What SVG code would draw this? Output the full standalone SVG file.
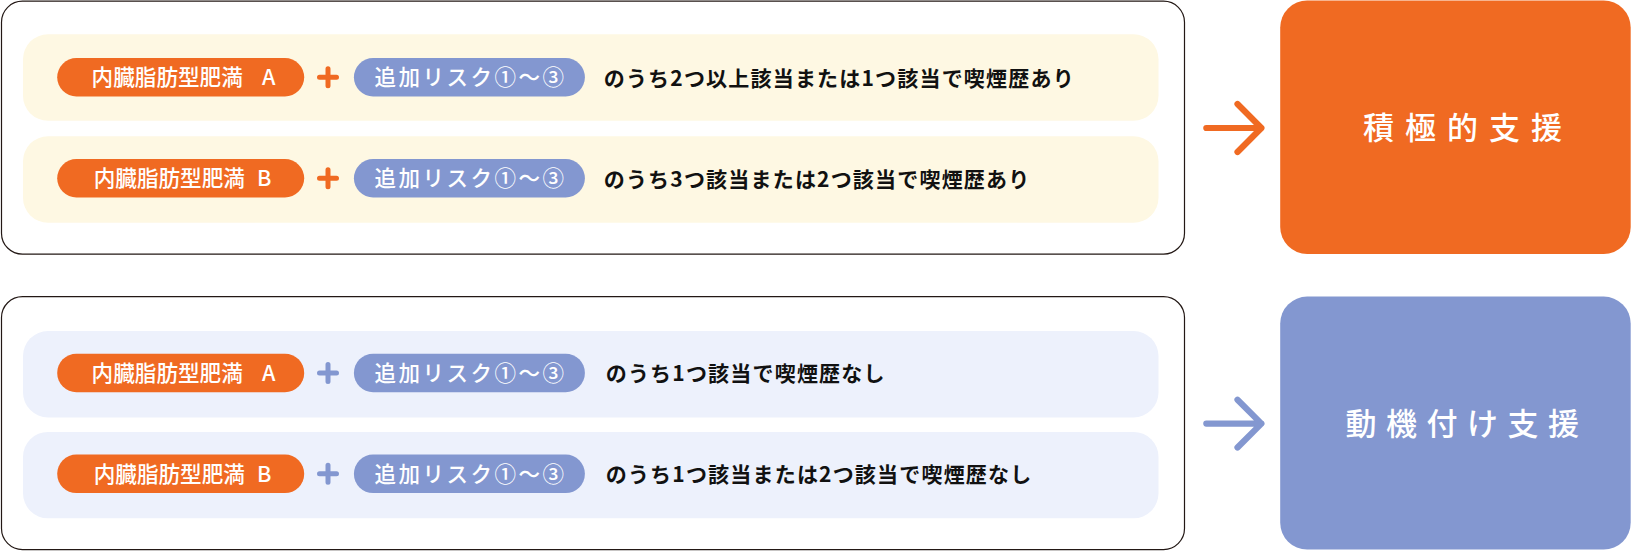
<svg xmlns="http://www.w3.org/2000/svg" width="1632" height="555" viewBox="0 0 1632 555">
<style>
.frame{fill:#fff;stroke:#231815;stroke-width:1.2}
.bandY{fill:#FEF8E3}
.bandB{fill:#EDF1FC}
.pillO{fill:#F06A22}
.pillB{fill:#8397D0}
.pt{font-family:"Noto Sans CJK JP","Noto Sans",sans-serif;font-size:21.6px;font-weight:500;fill:#fff}
.rt{font-family:"Noto Sans CJK JP","Noto Sans",sans-serif;font-size:21.5px;font-weight:500;fill:#fff;letter-spacing:2.5px}
.bt{font-family:"Noto Sans CJK JP","Noto Sans",sans-serif;font-size:21px;font-weight:700;fill:#111;letter-spacing:1.2px}
.plusO{stroke:#F06A22;stroke-width:5;stroke-linecap:round}
.plusB{stroke:#8397D0;stroke-width:5;stroke-linecap:round}
.big{font-family:"Noto Sans CJK JP","Noto Sans",sans-serif;font-size:31px;font-weight:500;fill:#fff}
.arrO{fill:none;stroke:#F06A22;stroke-width:6.2;stroke-linecap:round;stroke-linejoin:round}
.arrB{fill:none;stroke:#8397D0;stroke-width:6.2;stroke-linecap:round;stroke-linejoin:round}
</style>
<g id="group-active">
<rect class="frame" x="1.5" y="1.2" width="1183" height="253" rx="21"/>
<g id="row-active-A">
<rect class="bandY" x="23" y="34.3" width="1135.5" height="86.4" rx="25"/>
<rect class="pillO" x="57.2" y="58" width="247" height="38.5" rx="19.25"/>
<text class="pt" x="91.6" y="85.3">内臓脂肪型肥満<tspan x="262">A</tspan></text>
<path class="plusO" d="M319.5 77.2h17M328 68.7v17"/>
<rect class="pillB" x="353.9" y="58" width="231" height="38.5" rx="19.25"/>
<text class="rt" x="470.6" y="85.3" text-anchor="middle">追加リスク①〜③</text>
<text class="bt" x="603.7" y="85.5">のうち2つ以上該当または1つ該当で喫煙歴あり</text>
</g>
<g id="row-active-B">
<rect class="bandY" x="23" y="136.3" width="1135.5" height="86.4" rx="25"/>
<rect class="pillO" x="57.2" y="159" width="247" height="38.5" rx="19.25"/>
<text class="pt" x="93.7" y="186.3">内臓脂肪型肥満<tspan x="257">B</tspan></text>
<path class="plusO" d="M319.5 178.2h17M328 169.7v17"/>
<rect class="pillB" x="353.9" y="159" width="231" height="38.5" rx="19.25"/>
<text class="rt" x="470.6" y="186.3" text-anchor="middle">追加リスク①〜③</text>
<text class="bt" x="603.7" y="186.5">のうち3つ該当または2つ該当で喫煙歴あり</text>
</g>
</g>
<g id="group-motivation">
<rect class="frame" x="1.5" y="296.6" width="1183" height="253" rx="21"/>
<g id="row-motivation-A">
<rect class="bandB" x="23" y="331" width="1135.5" height="86.4" rx="25"/>
<rect class="pillO" x="57.2" y="353.7" width="247" height="38.5" rx="19.25"/>
<text class="pt" x="91.6" y="381">内臓脂肪型肥満<tspan x="262">A</tspan></text>
<path class="plusB" d="M319.5 372.9h17M328 364.4v17"/>
<rect class="pillB" x="353.9" y="353.7" width="231" height="38.5" rx="19.25"/>
<text class="rt" x="470.6" y="381" text-anchor="middle">追加リスク①〜③</text>
<text class="bt" x="605.7" y="381.2">のうち1つ該当で喫煙歴なし</text>
</g>
<g id="row-motivation-B">
<rect class="bandB" x="23" y="431.9" width="1135.5" height="86.4" rx="25"/>
<rect class="pillO" x="57.2" y="454.6" width="247" height="38.5" rx="19.25"/>
<text class="pt" x="93.7" y="482">内臓脂肪型肥満<tspan x="257">B</tspan></text>
<path class="plusB" d="M319.5 473.8h17M328 465.3v17"/>
<rect class="pillB" x="353.9" y="454.6" width="231" height="38.5" rx="19.25"/>
<text class="rt" x="470.6" y="482" text-anchor="middle">追加リスク①〜③</text>
<text class="bt" x="605.7" y="482.2">のうち1つ該当または2つ該当で喫煙歴なし</text>
</g>
</g>
<g id="node-active-support">
<rect class="pillO" x="1280.2" y="0.5" width="350.5" height="253.5" rx="27"/>
<text class="big" x="1468" y="139" text-anchor="middle" letter-spacing="11">積極的支援</text>
</g>
<g id="node-motivation-support">
<rect class="pillB" x="1280.2" y="296.6" width="350.5" height="253" rx="27"/>
<text class="big" x="1467" y="435" text-anchor="middle" letter-spacing="9.5">動機付け支援</text>
</g>
<g id="connectors">
<path class="arrO" d="M1206.3 128H1261.4M1237.5 104L1261.4 128L1237.5 152"/>
<path class="arrB" d="M1206.3 423.6H1261.4M1237.5 399.7L1261.4 423.6L1237.5 447.5"/>
</g>
</svg>
